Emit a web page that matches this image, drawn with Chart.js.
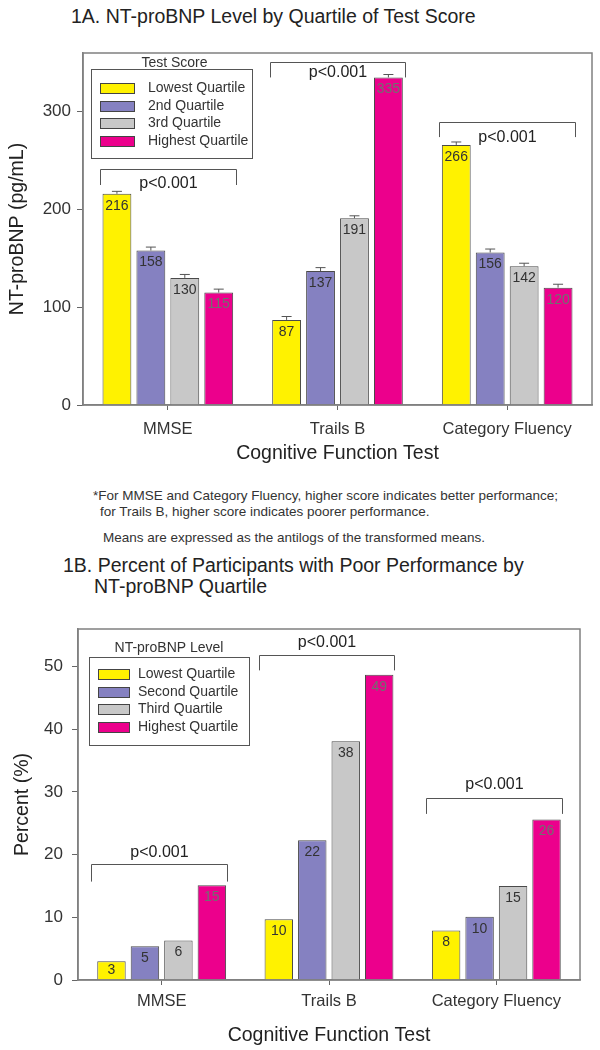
<!DOCTYPE html>
<html>
<head>
<meta charset="utf-8">
<script src="https://cdn.jsdelivr.net/npm/chart.js@4.4.0/dist/chart.umd.min.js"></script>
<style>
  html, body { margin: 0; padding: 0; background: #fff; }
  body { width: 600px; height: 1050px; position: relative; overflow: hidden;
         font-family: "Liberation Sans", Arial, sans-serif; color: #222; }
  .t { position: absolute; white-space: nowrap; }
  .title { font-size: 19.5px; line-height: 22px; color: #222; }
  .note { font-size: 13.5px; line-height: 16px; color: #333; }
  #boxA { position: absolute; left: 0; top: 0; }
  #boxB { position: absolute; left: 0; top: 600px; }
</style>
</head>
<body>
<div class="t title" style="left:71px; top:5px;">1A. NT-proBNP Level by Quartile of Test Score</div>
<canvas id="boxA" width="600" height="470"></canvas>

<div class="t note" style="left:93px; top:488px;">*For MMSE and Category Fluency, higher score indicates better performance;</div>
<div class="t note" style="left:100px; top:504px;">for Trails B, higher score indicates poorer performance.</div>
<div class="t note" style="left:103px; top:530px;">Means are expressed as the antilogs of the transformed means.</div>

<div class="t title" style="left:63px; top:554px;">1B. Percent of Participants with Poor Performance by</div>
<div class="t title" style="left:94px; top:575px;">NT-proBNP Quartile</div>
<canvas id="boxB" width="600" height="450"></canvas>

<script>
const tests = ['MMSE', 'Trails B', 'Category Fluency'];

// 1A - NT-proBNP means by quartile of test score
const scoreQuartiles = ['Lowest Quartile', '2nd Quartile', '3rd Quartile', 'Highest Quartile'];
const bnpLowest  = [216, 87, 266];
const bnp2nd     = [158, 137, 156];
const bnp3rd     = [130, 191, 142];
const bnpHighest = [115, 335, 120];
const errLowest  = [2.5, 3.5, 3];
const err2nd     = [3.5, 3.5, 3.5];
const err3rd     = [3.5, 2.5, 3];
const errHighest = [3.5, 3, 3.5];
const yTicksA    = [0, 100, 200, 300];
const pTextA     = ['p<0.001', 'p<0.001', 'p<0.001'];
const pTopA      = [241, 351, 289];
const pLegA      = [225, 335, 274];
const pLabelA    = [226, 340, 273];

// 1B - percent with poor performance by NT-proBNP quartile
const bnpQuartiles = ['Lowest Quartile', 'Second Quartile', 'Third Quartile', 'Highest Quartile'];
const pctLowest  = [3.0, 9.7, 7.9];
const pct2nd     = [5.4, 22.3, 10.1];
const pct3rd     = [6.3, 38.1, 15.0];
const pctHighest = [15.1, 48.7, 25.6];
const yTicksB    = [0, 10, 20, 30, 40, 50];
const pTextB     = ['p<0.001', 'p<0.001', 'p<0.001'];
const pTopB      = [18.5, 51.9, 29.1];
const pLegB      = [15.7, 49.4, 26.5];
const pLabelB    = [20.4, 53.8, 31.2];

const colors = ['#fff200', '#8581c1', '#c8c8c8', '#ec008c'];
const FONT = '"Liberation Sans", Arial, sans-serif';
Chart.defaults.font.family = FONT;
Chart.defaults.color = '#333';

function makeSets(names, series) {
  return series.map((d, i) => ({
    label: names[i],
    data: d,
    backgroundColor: colors[i],
    borderColor: '#4a4a4a',
    borderWidth: 1,
    categoryPercentage: 0.8,
    barPercentage: 0.85
  }));
}

const frame = {
  id: 'frame',
  afterDatasetsDraw(chart) {
    const { ctx, chartArea: a } = chart;
    ctx.save();
    ctx.strokeStyle = '#808080';
    ctx.lineWidth = 1.5;
    ctx.strokeRect(a.left, a.top, a.right - a.left, a.bottom - a.top);
    ctx.restore();
  }
};

const errorBars = {
  id: 'errorBars',
  afterDatasetsDraw(chart, args, opts) {
    if (!opts.errors) return;
    const { ctx } = chart;
    const y = chart.scales.y;
    ctx.save();
    ctx.strokeStyle = '#555';
    ctx.lineWidth = 1;
    chart.data.datasets.forEach((ds, i) => {
      chart.getDatasetMeta(i).data.forEach((bar, j) => {
        const top = y.getPixelForValue(ds.data[j] + opts.errors[i][j]);
        ctx.beginPath();
        ctx.moveTo(bar.x, bar.y);
        ctx.lineTo(bar.x, top);
        ctx.moveTo(bar.x - 5, top);
        ctx.lineTo(bar.x + 5, top);
        ctx.stroke();
      });
    });
    ctx.restore();
  }
};

const values = {
  id: 'values',
  afterDatasetsDraw(chart) {
    const { ctx } = chart;
    ctx.save();
    ctx.font = '14px ' + FONT;
    ctx.textAlign = 'center';
    ctx.textBaseline = 'middle';
    chart.data.datasets.forEach((ds, i) => {
      ctx.fillStyle = i === 3 ? '#707070' : '#333';
      chart.getDatasetMeta(i).data.forEach((bar, j) => {
        const h = bar.base - bar.y;
        ctx.fillText(String(Math.round(ds.data[j])), bar.x, bar.y + Math.min(12, h / 2));
      });
    });
    ctx.restore();
  }
};

const brackets = {
  id: 'brackets',
  afterDatasetsDraw(chart, args, o) {
    const { ctx } = chart;
    const x = chart.scales.x, y = chart.scales.y;
    const w = x.width / chart.data.labels.length;
    ctx.save();
    ctx.strokeStyle = '#555';
    ctx.lineWidth = 1;
    ctx.fillStyle = '#222';
    ctx.font = '16px ' + FONT;
    ctx.textAlign = 'center';
    ctx.textBaseline = 'middle';
    o.text.forEach((t, i) => {
      const cx = x.getPixelForValue(i);
      const l = Math.round(cx + o.from * w) + 0.5, r = Math.round(cx + o.to * w) + 0.5;
      const top = Math.round(y.getPixelForValue(o.top[i])) + 0.5;
      const leg = y.getPixelForValue(o.leg[i]);
      ctx.beginPath();
      ctx.moveTo(l, leg);
      ctx.lineTo(l, top);
      ctx.lineTo(r, top);
      ctx.lineTo(r, leg);
      ctx.stroke();
      ctx.fillText(t, (l + r) / 2, y.getPixelForValue(o.label[i]));
    });
    ctx.restore();
  }
};

const boxLegend = {
  id: 'boxLegend',
  afterDatasetsDraw(chart, args, o) {
    const { ctx, chartArea: a } = chart;
    const left = a.left + o.x, top = a.top + o.y;
    ctx.save();
    ctx.fillStyle = '#fff';
    ctx.fillRect(left, top, o.w, o.h);
    ctx.strokeStyle = '#555';
    ctx.lineWidth = 1;
    ctx.strokeRect(left + 0.5, top + 0.5, o.w, o.h);
    ctx.font = '14px ' + FONT;
    ctx.fillStyle = '#333';
    ctx.textAlign = 'center';
    ctx.textBaseline = 'middle';
    ctx.fillText(o.title, left + o.w / 2 + o.titleDx, top - o.titleGap);
    ctx.textAlign = 'left';
    chart.data.datasets.forEach((ds, i) => {
      const cy = Math.round(top + o.first + i * o.row);
      ctx.fillStyle = ds.backgroundColor;
      ctx.fillRect(left + o.swX, cy - 5, o.swW, 10);
      ctx.strokeStyle = '#444';
      ctx.strokeRect(left + o.swX + 0.5, cy - 4.5, o.swW, 10);
      ctx.fillStyle = '#333';
      ctx.fillText(ds.label, left + o.textX, cy);
    });
    ctx.restore();
  }
};

function makeScales(cfg) {
  return {
    x: {
      grid: { display: true, drawOnChartArea: false, drawTicks: true, tickLength: 5, offset: false, color: '#666' },
      border: { display: true, color: '#808080', width: 1.5 },
      ticks: { font: { size: 16.5 }, color: '#333', padding: cfg.xPad },
      title: { display: true, text: 'Cognitive Function Test', font: { size: 19.5 }, color: '#222',
               padding: { top: 0, bottom: cfg.xTitlePad } },
      afterFit: s => { s.height = cfg.xHeight; }
    },
    y: {
      min: 0, max: cfg.yMax,
      afterBuildTicks: s => { s.ticks = cfg.yTicks.map(v => ({ value: v })); },
      ticks: { font: { size: 17 }, color: '#333', padding: cfg.yPad },
      grid: { drawOnChartArea: false, tickLength: 6, color: '#666' },
      border: { display: true, color: '#808080', width: 1.5 },
      title: { display: true, text: cfg.yTitle, font: { size: 19.5 }, color: '#222',
               padding: { top: cfg.yTitlePad, bottom: 0 } },
      afterFit: s => { s.width = cfg.yWidth; }
    }
  };
}

new Chart(document.getElementById('boxA'), {
  type: 'bar',
  data: {
    labels: tests,
    datasets: makeSets(scoreQuartiles, [bnpLowest, bnp2nd, bnp3rd, bnpHighest])
  },
  options: {
    responsive: false,
    animation: false,
    devicePixelRatio: 1,
    layout: { padding: { top: 53, right: 8, left: 0, bottom: 0 } },
    scales: makeScales({ xPad: 10, xTitlePad: 5, xHeight: 65, yMax: 360, yTicks: yTicksA, yPad: 6,
                         yTitle: 'NT-proBNP (pg/mL)', yTitlePad: 6, yWidth: 83 }),
    plugins: {
      legend: { display: false },
      tooltip: { enabled: false },
      errorBars: { errors: [errLowest, err2nd, err3rd, errHighest] },
      brackets: { text: pTextA, top: pTopA, leg: pLegA, label: pLabelA, from: -0.4, to: 0.4 },
      boxLegend: { title: 'Test Score', x: 8, y: 16, w: 161, h: 89, titleDx: 3, titleGap: 6,
                   first: 19, row: 17.7, swX: 9, swW: 34, textX: 57 }
    }
  },
  plugins: [errorBars, values, brackets, frame, boxLegend]
});

new Chart(document.getElementById('boxB'), {
  type: 'bar',
  data: {
    labels: tests,
    datasets: makeSets(bnpQuartiles, [pctLowest, pct2nd, pct3rd, pctHighest])
  },
  options: {
    responsive: false,
    animation: false,
    devicePixelRatio: 1,
    layout: { padding: { top: 29, right: 20, left: 0, bottom: 0 } },
    scales: makeScales({ xPad: 7, xTitlePad: 3, xHeight: 70, yMax: 56, yTicks: yTicksB, yPad: 9,
                         yTitle: 'Percent (%)', yTitlePad: 11, yWidth: 78 }),
    plugins: {
      legend: { display: false },
      tooltip: { enabled: false },
      errorBars: {},
      brackets: { text: pTextB, top: pTopB, leg: pLegB, label: pLabelB, from: -0.42, to: 0.39 },
      boxLegend: { title: 'NT-proBNP Level', x: 11, y: 28, w: 160, h: 88, titleDx: 0, titleGap: 9,
                   first: 17, row: 17.7, swX: 9, swW: 31, textX: 49 }
    }
  },
  plugins: [errorBars, values, brackets, frame, boxLegend]
});
</script>
</body>
</html>
